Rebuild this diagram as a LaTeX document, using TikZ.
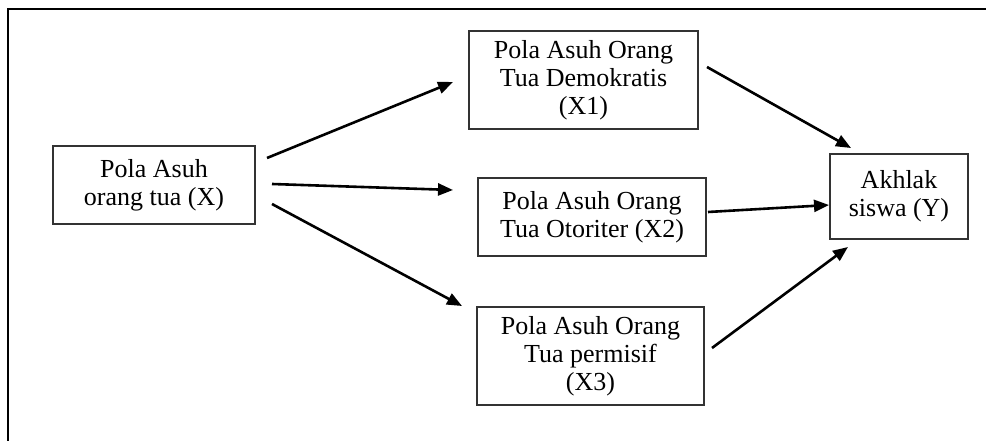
\documentclass[tikz,border=0pt]{standalone}
\usepackage{fontspec}
\setmainfont{Liberation Serif}
\usetikzlibrary{arrows.meta}
\begin{document}
\begin{tikzpicture}[x=1pt,y=-1pt,
  box/.style={draw=black!80, line width=1.5pt, rectangle, inner sep=0pt, align=center,
    font=\fontsize{26}{28}\selectfont},
  conn/.style={line width=2.6pt, -{Triangle[length=15pt,width=12pt]}}]
\useasboundingbox (0,0) rectangle (986,441);
\draw[line width=2.6pt] (8,442) -- (8,9) -- (987,9);
\node[box, minimum width=202pt, minimum height=78pt] (x) at (154,185) {Pola Asuh\\orang tua (X)};
\node[box, minimum width=229pt, minimum height=98pt] (x1) at (583.5,80) {Pola Asuh Orang\\Tua Demokratis\\(X1)};
\node[box, minimum width=228pt, minimum height=78pt] (x2) at (592,217) {Pola Asuh Orang\\Tua Otoriter (X2)};
\node[box, minimum width=227pt, minimum height=98pt] (x3) at (590.5,356) {Pola Asuh Orang\\Tua permisif\\(X3)};
\node[box, minimum width=138pt, minimum height=85pt] (y) at (899,196.5) {Akhlak\\siswa (Y)};
\coordinate (a1s) at (267,158); \coordinate (a1e) at (453,82);
\coordinate (a2s) at (272,184); \coordinate (a2e) at (453,190);
\coordinate (a3s) at (272,204); \coordinate (a3e) at (462,306);
\coordinate (b1s) at (707,67);  \coordinate (b1e) at (851,148);
\coordinate (b2s) at (708,212); \coordinate (b2e) at (829,205);
\coordinate (b3s) at (712,348); \coordinate (b3e) at (848,247);
\draw[conn] (a1s) -- (a1e);
\draw[conn] (a2s) -- (a2e);
\draw[conn] (a3s) -- (a3e);
\draw[conn] (b1s) -- (b1e);
\draw[conn] (b2s) -- (b2e);
\draw[conn] (b3s) -- (b3e);
\end{tikzpicture}
\end{document}
